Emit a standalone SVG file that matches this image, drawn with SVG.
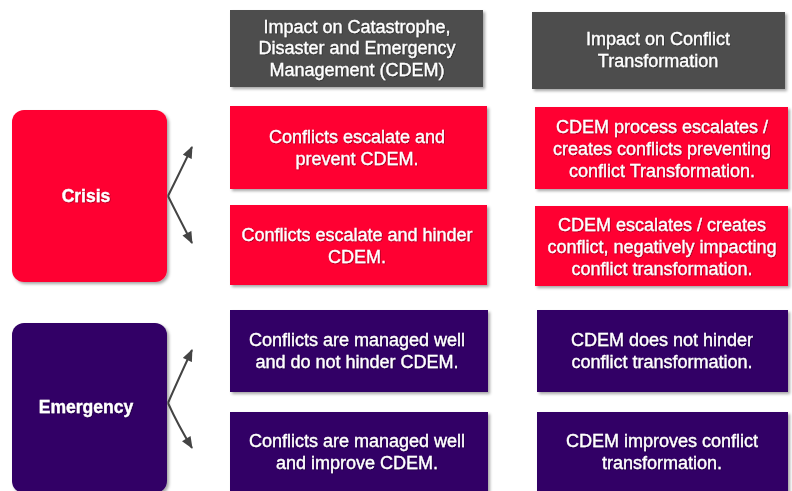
<svg xmlns="http://www.w3.org/2000/svg" width="792" height="491" viewBox="0 0 792 491">
<defs>
<filter id="sh" x="-10%" y="-10%" width="130%" height="130%">
<feDropShadow dx="2" dy="2" stdDeviation="1.5" flood-color="#000" flood-opacity="0.35"/>
</filter>
<filter id="ts" x="-5%" y="-20%" width="110%" height="140%">
<feDropShadow dx="0.5" dy="0.5" stdDeviation="0.6" flood-color="#000" flood-opacity="0.6"/>
</filter>
<marker id="ah" viewBox="0 0 12 10" refX="11" refY="5" markerWidth="13" markerHeight="10" markerUnits="userSpaceOnUse" orient="auto">
<path d="M0,0 L12,5 L0,10 z" fill="#444"/>
</marker>
</defs>
<style>
.hd{fill:#4d4d4d;filter:url(#sh)}
.red{fill:#ff0033;filter:url(#sh)}
.pur{fill:#330066;filter:url(#sh)}
.ln{stroke:#777;stroke-width:2;filter:url(#sh)}
text{font-family:"Liberation Sans",Arial,sans-serif;font-size:18px;fill:#fff;stroke:#fff;stroke-width:0.3;text-anchor:middle;filter:url(#ts)}
.b{font-weight:bold;font-size:17.5px}
.conn{stroke:#444;stroke-width:2;fill:none;marker-end:url(#ah)}
</style>
<rect width="792" height="491" fill="#fff"/>
<g id="lines">
<line class="ln" x1="195" y1="90" x2="488" y2="90"/>
<line class="ln" x1="497" y1="91" x2="792" y2="91"/>
<line class="ln" x1="195" y1="192" x2="488" y2="192"/>
<line class="ln" x1="497" y1="192" x2="792" y2="192"/>
<line class="ln" x1="195" y1="287" x2="488" y2="287"/>
<line class="ln" x1="497" y1="289" x2="792" y2="289"/>
<line class="ln" x1="195" y1="395" x2="488" y2="395"/>
<line class="ln" x1="505" y1="395" x2="792" y2="395"/>
</g>
<g id="header1"><rect class="hd" x="230" y="10" width="253" height="77"/>
<text x="357" y="33">Impact on Catastrophe,</text><text x="357" y="54">Disaster and Emergency</text><text x="357" y="76">Management (CDEM)</text></g>
<g id="header2"><rect class="hd" x="532" y="12" width="253" height="77"/>
<text x="658" y="45">Impact on Conflict</text><text x="658" y="67">Transformation</text></g>
<g id="crisis"><rect class="red" x="12" y="110" width="155" height="172" rx="12"/>
<text class="b" x="86" y="202">Crisis</text></g>
<g id="emergency"><rect class="pur" x="12" y="323" width="155" height="170" rx="12"/>
<text class="b" x="86" y="413">Emergency</text></g>
<g id="c1"><rect class="red" x="230" y="106" width="257" height="83"/>
<text x="357" y="143">Conflicts escalate and</text><text x="357" y="165">prevent CDEM.</text></g>
<g id="c2"><rect class="red" x="535" y="107" width="253" height="82"/>
<text x="662" y="133">CDEM process escalates /</text><text x="662" y="155">creates conflicts preventing</text><text x="662" y="177">conflict Transformation.</text></g>
<g id="c3"><rect class="red" x="230" y="205" width="257" height="80"/>
<text x="357" y="241">Conflicts escalate and hinder</text><text x="357" y="263">CDEM.</text></g>
<g id="c4"><rect class="red" x="535" y="206" width="253" height="80"/>
<text x="662" y="231">CDEM escalates / creates</text><text x="662" y="253">conflict, negatively impacting</text><text x="662" y="275">conflict transformation.</text></g>
<g id="e1"><rect class="pur" x="230" y="310" width="258" height="82"/>
<text x="357" y="346">Conflicts are managed well</text><text x="357" y="368">and do not hinder CDEM.</text></g>
<g id="e2"><rect class="pur" x="537" y="310" width="251" height="82"/>
<text x="662" y="346">CDEM does not hinder</text><text x="662" y="368">conflict transformation.</text></g>
<g id="e3"><rect class="pur" x="230" y="412" width="258" height="80"/>
<text x="357" y="447">Conflicts are managed well</text><text x="357" y="469">and improve CDEM.</text></g>
<g id="e4"><rect class="pur" x="537" y="412" width="251" height="80"/>
<text x="662" y="447">CDEM improves conflict</text><text x="662" y="469">transformation.</text></g>
<g id="connectors">
<path class="conn" d="M168,196 Q178,176 192,147"/>
<path class="conn" d="M168,196 Q178,216 192,243"/>
<path class="conn" d="M168,403 Q178,380 192,350"/>
<path class="conn" d="M168,403 Q178,425 192,448"/>
</g>
</svg>
